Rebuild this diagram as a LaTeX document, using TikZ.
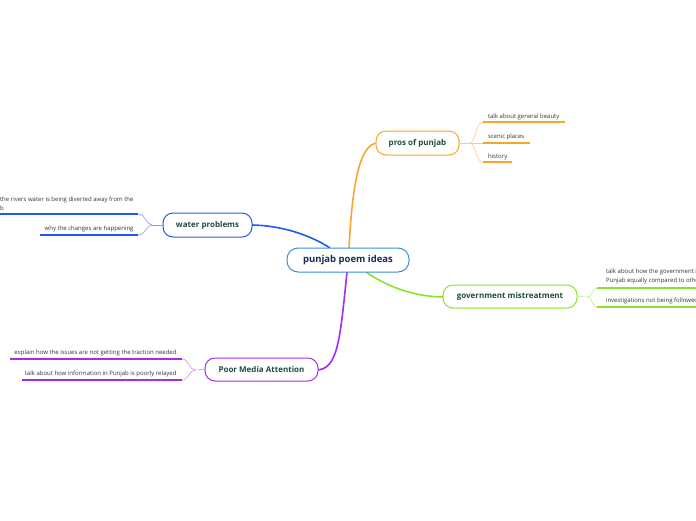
\documentclass[tikz,border=0pt]{standalone}
\usepackage{fontspec}
\setmainfont{Open Sans}
\begin{document}
\begin{tikzpicture}[x=1pt,y=-1pt,
  every node/.style={inner sep=0pt,outer sep=0pt},
  mainbox/.style={draw,line width=1pt,rounded corners=10pt,fill=white,font=\fontsize{8}{10}\selectfont\bfseries,text=nodetext,minimum height=24pt},
  centerbox/.style={draw=cblue,line width=1pt,rounded corners=11pt,fill=white,font=\fontsize{9.5}{11}\selectfont\bfseries,text=navy,minimum height=24pt,minimum width=122pt},
  leaftext/.style={font=\fontsize{6}{8}\selectfont,text=leafgray,align=left},
  trunk/.style={line width=1.6pt},
  twig/.style={line width=0.6pt},
  under/.style={line width=1.4pt}
]
\definecolor{cblue}{HTML}{3A8FD9}
\definecolor{navy}{HTML}{1B2B5C}
\definecolor{nodetext}{HTML}{1E4D3C}
\definecolor{leafgray}{HTML}{333333}
\definecolor{orng}{HTML}{F9A42C}
\definecolor{lorng}{HTML}{FBCB80}
\definecolor{wblue}{HTML}{1F5AF0}
\definecolor{lwblue}{HTML}{7FA2F5}
\definecolor{grn}{HTML}{88E42A}
\definecolor{lgrn}{HTML}{B8EE7C}
\definecolor{prp}{HTML}{A52BEF}
\definecolor{lprp}{HTML}{CE8AF5}
\useasboundingbox (0,0) rectangle (696,520);
\clip (0,0) rectangle (696,520);

% trunks
\coordinate (cTop1) at (349,248);
\coordinate (cTop2) at (330,248);
\coordinate (cBot1) at (366,272);
\coordinate (cBot2) at (347,272);
\draw[trunk,orng] (cTop1) .. controls (352,192) and (358,143) .. (378,143);
\draw[trunk,wblue] (cTop2) .. controls (312,236) and (282,225) .. (250,225);
\draw[trunk,grn] (cBot1) .. controls (392,290) and (420,297) .. (445,297);
\draw[trunk,prp] (cBot2) .. controls (340,340) and (338,370) .. (316,370);

\node[centerbox] (center) at (348,260) {punjab poem ideas};
\node[mainbox,draw=orng,minimum width=83pt] (pros) at (417.5,143) {pros of punjab};
\node[mainbox,draw=wblue,minimum width=89pt] (water) at (207.5,225) {water problems};
\node[mainbox,draw=grn,minimum width=134pt,minimum height=23pt] (gov) at (510,296.5) {government mistreatment};
\node[mainbox,draw=prp,minimum width=113pt,minimum height=23pt] (media) at (261.5,369.5) {Poor Media Attention};

% pros leaves
\coordinate (pJ) at (470,143);
\coordinate (p1a) at (483,122); \coordinate (p1b) at (565,122);
\coordinate (p2a) at (483,143); \coordinate (p2b) at (530,143);
\coordinate (p3a) at (483,162); \coordinate (p3b) at (512,162);
\draw[twig,lorng] (pros.east) -- (pJ);
\draw[twig,lorng] (pJ) .. controls (476,143) and (475,122) .. (p1a);
\draw[twig,lorng] (pJ) -- (p2a);
\draw[twig,lorng] (pJ) .. controls (476,143) and (475,162) .. (p3a);
\draw[under,orng] (p1a) -- (p1b);
\draw[under,orng] (p2a) -- (p2b);
\draw[under,orng] (p3a) -- (p3b);
\node[leaftext,anchor=base west] (pt1) at (488,118.5) {talk about general beauty};
\node[leaftext,anchor=base west] (pt2) at (488,138) {scenic places};
\node[leaftext,anchor=base west] (pt3) at (488,158) {history};

% water leaves
\coordinate (wJ) at (152,225);
\coordinate (w1a) at (138,214); \coordinate (w1b) at (0,214);
\coordinate (w2a) at (138,235); \coordinate (w2b) at (40,235);
\draw[twig,lwblue] (water.west) -- (wJ);
\draw[twig,lwblue] (wJ) .. controls (146,225) and (146,214) .. (w1a);
\draw[twig,lwblue] (wJ) .. controls (146,225) and (146,235) .. (w2a);
\draw[under,wblue] (w1a) -- (w1b);
\draw[under,wblue] (w2a) -- (w2b);
\node[leaftext,anchor=base east] (wt1) at (133.5,201.5) {the rivers water is being diverted away from the};
\node[leaftext,anchor=base west] (wt1b) at (0,210.5) {b};
\node[leaftext,anchor=base east] (wt2) at (133.5,230.5) {why the changes are happening};

% government leaves
\coordinate (gJ) at (588,297);
\coordinate (g1a) at (597,288); \coordinate (g1b) at (700,288);
\coordinate (g2a) at (597,307); \coordinate (g2b) at (700,307);
\draw[twig,lgrn] (gov.east) -- (gJ);
\draw[twig,lgrn] (gJ) .. controls (592,297) and (592,288) .. (g1a);
\draw[twig,lgrn] (gJ) .. controls (592,297) and (592,307) .. (g2a);
\draw[under,grn] (g1a) -- (g1b);
\draw[under,grn] (g2a) -- (g2b);
\node[leaftext,anchor=base west] (gt1) at (606,273.5) {talk about how the government i};
\node[leaftext,anchor=base west] (gt1b) at (606,282.5) {Punjab equally compared to othe};
\node[leaftext,anchor=base west] (gt2) at (606,302) {investigations not being followed};

% media leaves
\coordinate (mJ) at (195,370);
\coordinate (m1a) at (182,359); \coordinate (m1b) at (10,359);
\coordinate (m2a) at (182,380); \coordinate (m2b) at (22,380);
\draw[twig,lprp] (media.west) -- (mJ);
\draw[twig,lprp] (mJ) .. controls (189,370) and (189,359) .. (m1a);
\draw[twig,lprp] (mJ) .. controls (189,370) and (189,380) .. (m2a);
\draw[under,prp] (m1a) -- (m1b);
\draw[under,prp] (m2a) -- (m2b);
\node[leaftext,anchor=base east] (mt1) at (176.5,354.5) {explain how the issues are not getting the traction needed};
\node[leaftext,anchor=base east] (mt2) at (176.5,375) {talk about how information in Punjab is poorly relayed};
\end{tikzpicture}
\end{document}
